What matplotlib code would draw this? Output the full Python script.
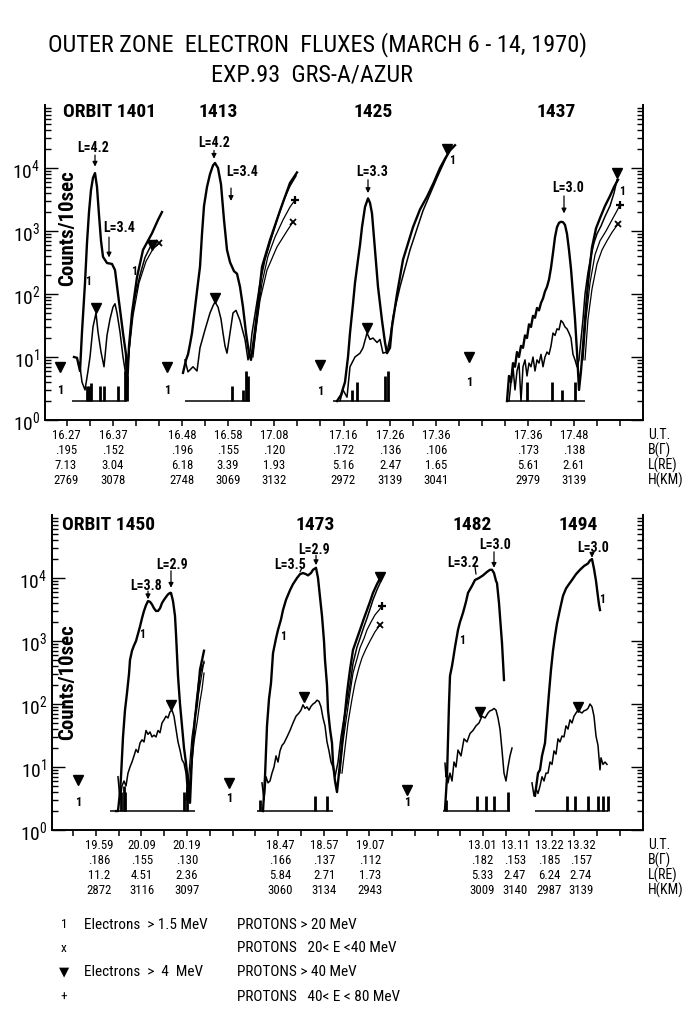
import numpy as np
import matplotlib
matplotlib.use("Agg")
import matplotlib.pyplot as plt
from matplotlib import font_manager
from matplotlib.ticker import FixedLocator, LogLocator

# Outer zone electron fluxes, GRS-A/AZUR, strip-chart style

names = {f.name for f in font_manager.fontManager.ttflist}
narrow = next((n for n in ["Liberation Sans Narrow", "Roboto Condensed", "Open Sans Condensed"] if n in names), "DejaVu Sans")
plt.rcParams["font.family"] = [narrow, "DejaVu Sans"]

# x values are positions along the chart record (same units for all orbits)
# ---- top panel ----
o1401_x1 = [74, 77, 80, 82, 85, 87, 89, 91, 93, 95, 97, 99, 101, 103, 107, 112, 115, 118, 121, 123, 126, 127, 129, 132, 137, 143, 152, 158, 162]
o1401_y1 = [10, 9.7, 6, 25, 150, 650, 2000, 4500, 7000, 8300, 5000, 1800, 700, 390, 310, 300, 240, 100, 43, 24, 11, 3, 15, 50, 185, 500, 920, 1500, 2000]
o1401_x4 = [78, 80, 82, 85, 88, 90, 93, 96, 98, 101, 104, 107, 110, 113, 115, 117, 120, 123, 126, 128, 131, 135, 140, 145, 150, 155]
o1401_y4 = [8, 7, 4, 3, 6, 10, 30, 50, 25, 12, 7, 22, 40, 62, 70, 50, 25, 10, 5, 8, 30, 90, 200, 380, 550, 700]
o1401_xa = [127, 129, 133, 139, 146, 153, 160]
o1401_ya = [5, 12, 45, 150, 330, 520, 650]

o1413_x1 = [183, 186, 188, 190, 192, 195, 198, 200, 202, 204, 207, 210, 213, 215, 218, 221, 224, 227, 230, 234, 237, 240, 243, 246, 249, 251, 254, 257, 262, 270, 280, 290, 297]
o1413_y1 = [5.6, 9, 11, 16, 24, 60, 150, 270, 900, 2500, 5000, 8000, 11000, 12000, 10000, 5500, 1500, 500, 320, 230, 210, 130, 62, 24, 11.5, 9, 20, 50, 270, 720, 2100, 5800, 8500]
o1413_x4 = [185, 188, 193, 197, 200, 205, 210, 213, 215, 218, 221, 223, 225, 227, 230, 233, 236, 240, 243, 245, 248, 250, 252, 256, 260, 265, 270, 277, 284, 290, 296]
o1413_y4 = [9, 5.8, 7, 6, 14, 27, 50, 65, 75, 62, 40, 24, 15, 11.5, 24, 50, 55, 38, 25, 19, 9, 12, 24, 60, 150, 350, 650, 1500, 3200, 5200, 7500]
o1413_xa = [253, 260, 267, 277, 287, 293]
o1413_ya = [12, 80, 240, 560, 1000, 1400]
o1413_xb = [253, 257, 262, 268, 275, 283, 290, 295]
o1413_yb = [10, 40, 150, 400, 800, 1500, 2400, 3100]

o1425_x1 = [337, 341, 345, 348, 350, 353, 355, 358, 360, 362, 365, 368, 370, 372, 375, 378, 382, 385, 387, 390, 392, 397, 403, 413, 420, 427, 434, 440, 445, 450, 455]
o1425_y1 = [2, 2.5, 4, 10, 24, 70, 150, 350, 600, 1150, 2400, 3300, 2800, 1900, 500, 130, 38, 17, 11.5, 14, 30, 100, 350, 1150, 2200, 3500, 6000, 10000, 14000, 19000, 23000]
o1425_x4 = [340, 343, 347, 350, 355, 360, 363, 367, 370, 373, 377, 380, 383, 387, 390, 393, 400, 410, 423, 437, 448]
o1425_y4 = [2, 3, 2.3, 7, 10, 11.5, 14, 24, 19, 20, 17, 19, 11.5, 12, 20, 43, 130, 500, 2100, 7000, 17000]

o1437_x1 = [507, 509, 511, 513, 515, 517, 519, 521, 523, 525, 527, 529, 531, 533, 535, 537, 539, 541, 543, 545, 547, 549, 551, 553, 555, 557, 559, 561, 563, 565, 567, 569, 571, 573, 575, 577, 579, 581, 583, 585, 588, 592, 596, 600, 605, 610, 614, 618]
o1437_y1 = [2, 5, 4, 8, 7, 12, 10, 15, 14, 22, 20, 33, 30, 45, 42, 60, 55, 72, 85, 110, 130, 170, 260, 450, 800, 1150, 1350, 1400, 1380, 1250, 900, 500, 250, 100, 40, 12, 3, 6, 15, 40, 150, 550, 1100, 1600, 2500, 3600, 5000, 6500]
o1437_x4 = [509, 511, 513, 515, 517, 519, 521, 523, 525, 527, 529, 531, 533, 535, 537, 539, 541, 543, 545, 547, 549, 551, 553, 555, 557, 559, 561, 563, 565, 567, 569, 571, 573, 575, 577, 579, 581, 583, 585, 588, 591, 594, 597, 601, 605, 610, 614, 617]
o1437_y4 = [2, 4, 7, 3, 6, 8, 2, 7, 9, 5, 8, 7, 10, 6, 9, 8, 11, 7, 10, 12, 11, 15, 24, 22, 28, 27, 38, 35, 30, 28, 24, 20, 11, 9, 7, 9, 19, 40, 100, 220, 400, 650, 900, 1200, 1700, 2500, 4000, 6500]
o1437_xa = [585, 588, 592, 597, 602, 607, 612, 618]
o1437_ya = [9, 40, 120, 300, 500, 700, 950, 1300]
o1437_xb = [583, 586, 590, 595, 600, 606, 612, 617, 620]
o1437_yb = [9, 40, 150, 420, 700, 1000, 1500, 2100, 2600]

# ---- bottom panel ----
o1450_x1 = [116, 118, 120, 121, 123, 125, 127, 129, 130, 132, 134, 136, 138, 140, 142, 144, 146, 148, 150, 152, 154, 156, 158, 160, 162, 164, 166, 168, 170, 171, 173, 175, 176, 178, 180, 182, 184, 186, 188, 190, 192, 195, 197, 200, 204]
o1450_y1 = [2, 2, 4, 7, 30, 80, 150, 300, 500, 700, 850, 1000, 1300, 1700, 2300, 3000, 3700, 4300, 4200, 3800, 3300, 3000, 3000, 3300, 4000, 4500, 5000, 5500, 5800, 5800, 4300, 2500, 1300, 280, 100, 45, 20, 11.5, 5.6, 2.7, 15, 60, 100, 350, 700]
o1450_x4 = [118, 120, 122, 124, 126, 128, 130, 132, 134, 136, 138, 140, 142, 144, 146, 148, 150, 152, 154, 156, 158, 160, 162, 164, 166, 168, 170, 172, 174, 176, 178, 180, 182, 184, 186, 188, 190, 193, 196, 199, 202, 204]
o1450_y4 = [7, 3, 5, 6, 5, 8, 10, 12, 15, 19, 17, 24, 27, 25, 38, 33, 36, 30, 32, 30, 38, 35, 50, 56, 64, 60, 75, 80, 64, 40, 25, 18.6, 13, 11.5, 8, 3, 6, 25, 100, 250, 380, 450]
o1450_xa = [188, 191, 194, 197, 200, 202, 204]
o1450_ya = [3, 8, 25, 50, 110, 170, 310]
o1450_xb = [186, 189, 192, 195, 198, 201, 204]
o1450_yb = [3, 8, 30, 64, 130, 250, 480]

o1473_x1 = [263, 265, 267, 269, 271, 273, 276, 278, 281, 283, 286, 290, 293, 297, 300, 303, 306, 308, 311, 313, 316, 318, 320, 322, 324, 325, 327, 328, 330, 332, 333, 335, 337, 340, 344, 347, 350, 353, 357, 360, 364, 367, 370, 373, 377, 381]
o1473_y1 = [2, 7, 45, 120, 215, 640, 1100, 1500, 2200, 3100, 4500, 6400, 8000, 10000, 11500, 12000, 11500, 11000, 12000, 13500, 14500, 10000, 5000, 2500, 1000, 500, 200, 80, 40, 24, 11.5, 6, 4, 11.5, 50, 150, 350, 720, 1100, 1500, 2300, 3100, 4200, 5800, 8000, 10500]
o1473_x4 = [262, 264, 266, 268, 270, 272, 274, 276, 278, 280, 282, 284, 287, 290, 293, 296, 299, 301, 303, 305, 307, 309, 311, 313, 315, 317, 319, 321, 323, 325, 327, 329, 331, 333, 335, 338, 341, 344, 347, 350, 353, 357, 360, 364, 367, 370, 373, 377, 380]
o1473_y4 = [5.6, 3, 7, 5.6, 6, 8, 10, 15, 12, 18, 22, 24, 30, 38, 50, 64, 72, 80, 97, 85, 90, 80, 92, 100, 105, 115, 110, 90, 60, 45, 25, 18, 12, 10, 7, 12, 30, 60, 100, 200, 440, 800, 1100, 1700, 2300, 3200, 4500, 6500, 8300]
o1473_xa = [342, 345, 348, 352, 355, 359, 362, 366, 370, 375, 380]
o1473_ya = [8, 20, 50, 120, 215, 380, 540, 750, 1000, 1400, 1800]
o1473_xb = [340, 343, 347, 350, 353, 357, 360, 364, 367, 371, 375, 379, 382]
o1473_yb = [8, 25, 70, 150, 310, 520, 780, 1100, 1500, 2000, 2600, 3100, 3600]

o1482_x1 = [445, 447, 449, 450, 452, 453, 455, 458, 460, 463, 466, 468, 472, 475, 479, 483, 487, 490, 492, 494, 496, 497, 499, 501, 502, 504]
o1482_y1 = [2.1, 7, 100, 280, 400, 500, 800, 1500, 2000, 2800, 4200, 5800, 7500, 9300, 10000, 11000, 12500, 13500, 13500, 12000, 9000, 8300, 4000, 1500, 930, 240]
o1482_x4 = [445, 446, 447, 448, 450, 452, 454, 456, 458, 461, 464, 467, 470, 473, 476, 479, 482, 485, 488, 490, 492, 494, 496, 498, 500, 502, 504, 506, 508, 510, 512]
o1482_y4 = [11.5, 7, 9, 5.6, 8, 6, 12, 10, 18.6, 15, 28, 25, 34, 38, 45, 50, 64, 60, 72, 78, 80, 85, 80, 60, 40, 18.6, 8, 6, 10, 15, 20]

o1494_x1 = [535, 538, 540, 542, 545, 547, 549, 551, 553, 555, 557, 560, 563, 566, 569, 572, 576, 580, 584, 588, 590, 592, 594, 596, 598, 599, 600]
o1494_y1 = [3.5, 8, 9, 15, 24, 60, 150, 350, 700, 1200, 1900, 3200, 5200, 6800, 8000, 9300, 11500, 13500, 15500, 17000, 19000, 20000, 14000, 9000, 5000, 3800, 3100]
o1494_x4 = [532, 534, 536, 538, 540, 542, 544, 546, 548, 550, 552, 554, 556, 558, 560, 562, 564, 566, 568, 570, 572, 574, 576, 578, 580, 582, 584, 586, 588, 590, 592, 594, 596, 598, 600, 601, 603, 605, 607]
o1494_y4 = [5.6, 3.5, 4.5, 3.8, 5, 7, 6, 8, 8, 12, 11, 18, 16, 28, 25, 31, 30, 45, 40, 56, 50, 64, 72, 80, 75, 72, 78, 80, 85, 100, 90, 64, 31, 22, 9, 14, 11, 12, 11]

# floor level of the counters, baseline extent and noise spikes
floor = 2
base_p1 = [(72, 127), (185, 250), (333, 390), (507, 585)]
base_p2 = [(110, 195), (257, 333), (443, 510), (535, 608)]
spike_x1 = [87, 89, 91, 100, 104, 118, 125, 127, 232, 243, 246, 248, 352, 357, 385, 388, 527, 552, 562, 575]
spike_y1 = [3.5, 3.5, 3.8, 3.5, 3.5, 3.5, 6, 5, 3.5, 3, 6, 5, 3, 4, 5, 6, 4, 4, 3, 4]
spike_x2 = [121, 124, 125, 184, 187, 260, 315, 327, 446, 477, 486, 494, 508, 567, 575, 588, 598, 603, 608]
spike_y2 = [4, 5, 4, 4, 5, 3, 3.5, 3.5, 3, 3.5, 3.5, 3.5, 4, 3.5, 3.5, 3.5, 3.5, 3.5, 3.5]

# background level symbols left of each orbit
bg_x1 = [60, 167, 320, 469]
bg_tri1 = [7, 7, 7.5, 10]
bg_one1 = [2.9, 2.9, 2.8, 4]
bg_x2 = [78, 229, 407]
bg_tri2 = [6.2, 5.6, 4.3]
bg_one2 = [2.7, 3.2, 2.7]

# ▼ symbols near the >4 MeV maxima and at curve ends
tri_x1 = [96, 152, 215, 367, 447, 617]
tri_y1 = [60, 600, 85, 29, 20000, 8300]
tri_x2 = [171, 304, 380, 480, 578]
tri_y2 = [95, 130, 10500, 75, 90]
plus_x1 = [295, 620]
plus_y1 = [3100, 2600]
cross_x1 = [159, 293, 618]
cross_y1 = [650, 1400, 1300]
plus_x2 = [382]
plus_y2 = [3600]
cross_x2 = [380]
cross_y2 = [1800]
one_x1 = [88, 134, 452, 622]
one_y1 = [160, 230, 13000, 4200]
one_x2 = [142, 283, 462, 602]
one_y2 = [1250, 1200, 1000, 4500]

# L-shell markers: text, text x, text y, pointer x0, y0, x1, y1, arrow head
lmark1 = [("L=4.2", 93, 21000, 95, 16000, 95, 10500, True),
          ("L=3.4", 119, 1100, 109, 800, 109, 380, True),
          ("L=4.2", 214, 25000, 214, 19000, 214, 14000, True),
          ("L=3.4", 242, 8700, 231, 4800, 231, 3000, True),
          ("L=3.3", 372, 8700, 368, 6500, 368, 4000, True),
          ("L=3.0", 568, 4800, 564, 3600, 564, 1900, True)]
lmark2 = [("L=3.8", 146, 7500, 148, 6200, 148, 4600, True),
          ("L=2.9", 172, 16000, 171, 13000, 171, 7000, True),
          ("L=3.5", 290, 16000, 302, 14500, 300, 12500, False),
          ("L=2.9", 314, 28000, 316, 23000, 316, 16000, True),
          ("L=3.2", 463, 17000, 475, 15000, 476, 11500, False),
          ("L=3.0", 495, 33000, 494, 26000, 494, 14500, True),
          ("L=3.0", 593, 30000, 592, 25000, 592, 21000, True)]

orbit_names1 = ["ORBIT 1401", "1413", "1425", "1437"]
orbit_pos1 = [63, 218, 373, 556]
orbit_names2 = ["ORBIT 1450", "1473", "1482", "1494"]
orbit_pos2 = [62, 315, 472, 578]

# tables under the axes
ut1 = ["16.27", "16.37", "16.48", "16.58", "17.08", "17.16", "17.26", "17.36", "17.36", "17.48"]
b1 = [".195", ".152", ".196", ".155", ".120", ".172", ".136", ".106", ".173", ".138"]
l1 = ["7.13", "3.04", "6.18", "3.39", "1.93", "5.16", "2.47", "1.65", "5.61", "2.61"]
h1 = ["2769", "3078", "2748", "3069", "3132", "2972", "3139", "3041", "2979", "3139"]
col_x1 = [66, 113, 182, 228, 274, 343, 390, 436, 528, 574]
ut2 = ["19.59", "20.09", "20.19", "18.47", "18.57", "19.07", "13.01", "13.11", "13.22", "13.32"]
b2 = [".186", ".155", ".130", ".166", ".137", ".112", ".182", ".153", ".185", ".157"]
l2 = ["11.2", "4.51", "2.36", "5.84", "2.71", "1.73", "5.33", "2.47", "6.24", "2.74"]
h2 = ["2872", "3116", "3097", "3060", "3134", "2943", "3009", "3140", "2987", "3139"]
col_x2 = [99, 142, 187, 280, 324, 370, 482, 515, 549, 581]
row_names = ["U.T.", "B(Γ)", "L(RE)", "H(KM)"]

legend_sym = ["1", "x", "▼", "+"]
legend_el = ["Electrons  > 1.5 MeV", "", "Electrons  >  4  MeV", ""]
legend_pr = ["PROTONS > 20 MeV", "PROTONS   20< E <40 MeV", "PROTONS > 40 MeV", "PROTONS   40< E < 80 MeV"]

W, H = 693, 1017
fig = plt.figure(figsize=(W / 100, H / 100), dpi=100)


def box(l, r, t, b):
    return [l / W, 1 - b / H, (r - l) / W, (b - t) / H]


ax1 = fig.add_axes(box(45, 643, 105, 420))
ax2 = fig.add_axes(box(52, 643, 515, 830))

orbits1 = [(o1401_x1, o1401_y1, o1401_x4, o1401_y4, o1401_xa, o1401_ya, None, None),
           (o1413_x1, o1413_y1, o1413_x4, o1413_y4, o1413_xa, o1413_ya, o1413_xb, o1413_yb),
           (o1425_x1, o1425_y1, o1425_x4, o1425_y4, None, None, None, None),
           (o1437_x1, o1437_y1, o1437_x4, o1437_y4, o1437_xa, o1437_ya, o1437_xb, o1437_yb)]
orbits2 = [(o1450_x1, o1450_y1, o1450_x4, o1450_y4, o1450_xa, o1450_ya, o1450_xb, o1450_yb),
           (o1473_x1, o1473_y1, o1473_x4, o1473_y4, o1473_xa, o1473_ya, o1473_xb, o1473_yb),
           (o1482_x1, o1482_y1, o1482_x4, o1482_y4, None, None, None, None),
           (o1494_x1, o1494_y1, o1494_x4, o1494_y4, None, None, None, None)]

panels = [
    (ax1, (45, 643), np.linspace(67, 620, 25), orbits1, base_p1, spike_x1, spike_y1,
     bg_x1, bg_tri1, bg_one1, tri_x1, tri_y1, plus_x1, plus_y1, cross_x1, cross_y1,
     one_x1, one_y1, lmark1, orbit_names1, orbit_pos1, 0.978, 0.61,
     [ut1, b1, l1, h1], col_x1),
    (ax2, (52, 643), np.linspace(73, 620, 25), orbits2, base_p2, spike_x2, spike_y2,
     bg_x2, bg_tri2, bg_one2, tri_x2, tri_y2, plus_x2, plus_y2, cross_x2, cross_y2,
     one_x2, one_y2, lmark2, orbit_names2, orbit_pos2, 0.968, 0.47,
     [ut2, b2, l2, h2], col_x2),
]

for (ax, xl, xt, orbits, bases, sx, sy, bgx, bgt, bgo, tx, ty, px, py, cx, cy,
     ox, oy, lmarks, onames, opos, oy_frac, ylab_frac, rows, colx) in panels:
    ax.set_yscale("log")
    ax.set_xlim(*xl)
    ax.set_ylim(1, 1e5)

    for (x1, y1, x4, y4, xa, ya, xb, yb), (b0, b1_) in zip(orbits, bases):
        ax.hlines(floor, b0, b1_, color="k", lw=1.1)
        ax.plot(x1, y1, color="k", lw=1.7, solid_joinstyle="round")
        ax.plot(x4, y4, color="k", lw=1.1)
        if xa is not None:
            ax.plot(xa, ya, color="k", lw=0.9)
        if xb is not None:
            ax.plot(xb, yb, color="k", lw=0.9)
    ax.vlines(sx, floor, sy, color="k", lw=2.0)

    ax.plot(bgx, bgt, "kv", ms=6.5, ls="none")
    for x, y in zip(bgx, bgo):
        ax.text(x, y, "1", ha="center", va="center", fontsize=9, fontweight="bold")
    ax.plot(tx, ty, "kv", ms=6.5, ls="none")
    ax.plot(px, py, "k+", ms=6, mew=1.6, ls="none")
    ax.plot(cx, cy, "kx", ms=5, mew=1.3, ls="none")
    for x, y in zip(ox, oy):
        ax.text(x, y, "1", ha="center", va="center", fontsize=8.5, fontweight="bold")

    for s, x, y, ax0, ay0, ax1_, ay1, head in lmarks:
        ax.text(x, y, s, ha="center", va="center", fontsize=10, fontweight="bold")
        ax.annotate("", xy=(ax1_, ay1), xytext=(ax0, ay0),
                    arrowprops=dict(arrowstyle="-|>" if head else "-", color="k", lw=0.9,
                                    mutation_scale=7, shrinkA=0, shrinkB=0))

    trans = ax.get_xaxis_transform()
    for i, (s, x) in enumerate(zip(onames, opos)):
        ax.text(x, oy_frac, s, transform=trans, ha="left" if i == 0 else "center",
                va="center", fontsize=14, fontweight="bold")
    ax.text(68, ylab_frac, "Counts/10sec", transform=trans, rotation=90,
            ha="center", va="center", fontsize=15, fontweight="bold")

    # ticks
    ax.set_xticks(xt)
    ax.set_xticklabels([])
    ax.tick_params(axis="x", direction="out", length=4, width=1.1)
    ax.yaxis.set_major_locator(FixedLocator([1, 10, 100, 1000, 10000]))
    ax.yaxis.set_minor_locator(LogLocator(base=10, subs=np.arange(2, 10), numticks=20))
    ax.tick_params(axis="y", which="both", direction="in", left=True, right=True,
                   width=1.0, labelsize=14)
    ax.tick_params(axis="y", which="major", length=9)
    ax.tick_params(axis="y", which="minor", length=4)
    ax.spines["top"].set_visible(False)
    for sp in ["left", "right", "bottom"]:
        ax.spines[sp].set_linewidth(1.4)

    # table of orbit parameters
    for r, (vals, name) in enumerate(zip(rows, row_names)):
        yf = -0.048 - 0.0476 * r
        for v, x in zip(vals, colx):
            ax.text(x, yf, v, transform=trans, ha="center", va="center",
                    fontsize=9.2, clip_on=False)
        ax.text(648, yf, name, transform=trans, ha="left", va="center",
                fontsize=10, clip_on=False)

fig.text(317 / W, 1 - 45 / H, "OUTER ZONE  ELECTRON  FLUXES (MARCH 6 - 14, 1970)",
         ha="center", va="center", fontsize=17.5)
fig.text(312 / W, 1 - 75 / H, "EXP.93  GRS-A/AZUR", ha="center", va="center", fontsize=17.5)

for i, ypx in enumerate([925, 948, 972, 997]):
    yf = 1 - ypx / H
    fig.text(64 / W, yf, legend_sym[i], ha="center", va="center", fontsize=9.5)
    fig.text(84 / W, yf, legend_el[i], ha="left", va="center", fontsize=11)
    fig.text(237 / W, yf, legend_pr[i], ha="left", va="center", fontsize=11)

fig.savefig("out.png", dpi=100)
